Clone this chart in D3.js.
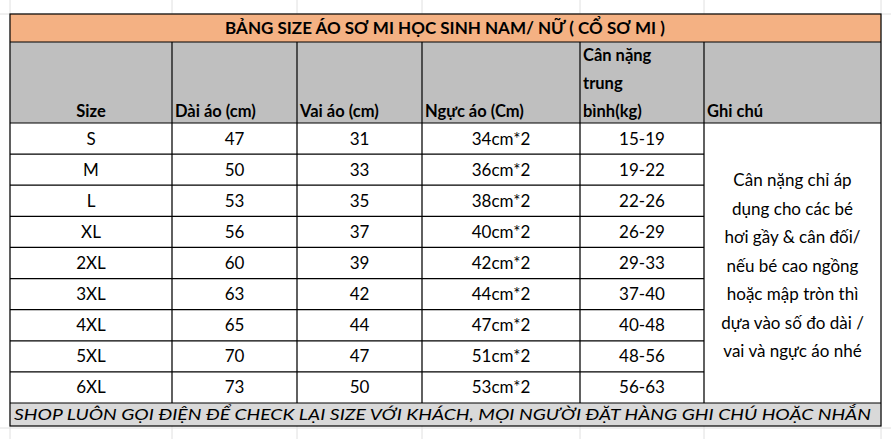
<!DOCTYPE html>
<html><head><meta charset="utf-8">
<script src="https://cdn.jsdelivr.net/npm/d3@7"></script>
<style>body{margin:0;background:#fff}text{font-family:Lato,"Open Sans",sans-serif}</style>
</head><body><div id="chart"></div>
<script>
const title = "BẢNG SIZE ÁO SƠ MI HỌC SINH NAM/ NỮ ( CỔ SƠ MI )";
const headers = ["Size", "Dài áo (cm)", "Vai áo (cm)", "Ngực áo (Cm)", "Cân nặng\ntrung\nbình(kg)", "Ghi chú"];
const sizes = ["S", "M", "L", "XL", "2XL", "3XL", "4XL", "5XL", "6XL"];
const lengthCm = [47, 50, 53, 56, 60, 63, 65, 70, 73];
const shoulder = [31, 33, 35, 37, 39, 42, 44, 47, 50];
const chest = ["34cm*2", "36cm*2", "38cm*2", "40cm*2", "42cm*2", "44cm*2", "47cm*2", "51cm*2", "53cm*2"];
const weight = ["15-19", "19-22", "22-26", "26-29", "29-33", "37-40", "40-48", "48-56", "56-63"];
const note = ["Cân nặng chỉ áp", "dụng cho các bé", "hơi gầy & cân đối/", "nếu bé cao ngồng", "hoặc mập tròn thì", "dựa vào số đo dài /", "vai và ngực áo nhé"];
const footer = "SHOP LUÔN GỌI ĐIỆN ĐỂ CHECK LẠI SIZE VỚI KHÁCH, MỌI NGƯỜI ĐẶT HÀNG GHI CHÚ HOẶC NHẮN";

const W = 891, H = 439;
const colEdges = [10, 172, 297, 422, 580, 704, 881];
const svg = d3.select("#chart").append("svg").attr("width", W).attr("height", H);

// faint spreadsheet grid
svg.selectAll(".gx").data(colEdges).join("line").attr("x1", d => d).attr("x2", d => d)
  .attr("y1", 0).attr("y2", H).attr("stroke", "#e0e0e0");
svg.selectAll(".gy").data([14, 428]).join("line").attr("x1", 0).attr("x2", W)
  .attr("y1", d => d).attr("y2", d => d).attr("stroke", "#e0e0e0");

const y = d3.scaleBand().domain(sizes).range([123, 403]);
const topY = 14, titleB = 42, headB = 123, footB = 426;

// title
svg.append("rect").attr("x", 10).attr("y", topY).attr("width", 871).attr("height", titleB - topY).attr("fill", "#f4b183");
svg.append("text").attr("x", 445).attr("y", 34).attr("text-anchor", "middle").attr("font-weight", "bold")
  .attr("font-size", 17).text(title);
// header
svg.append("rect").attr("x", 10).attr("y", titleB).attr("width", 871).attr("height", headB - titleB).attr("fill", "#bfbfbf");
headers.forEach((h, i) => {
  const lines = h.split("\n");
  lines.forEach((l, j) => {
    svg.append("text")
      .attr("x", i === 0 ? (colEdges[0] + colEdges[1]) / 2 : colEdges[i] + 3)
      .attr("text-anchor", i === 0 ? "middle" : "start")
      .attr("y", 117 - (lines.length - 1 - j) * 28)
      .attr("font-weight", "bold").attr("font-size", 16.5).text(l);
  });
});
// body rows
const cols = [sizes, lengthCm, shoulder, chest, weight];
sizes.forEach((s, r) => {
  cols.forEach((c, i) => {
    svg.append("text").attr("x", (colEdges[i] + colEdges[i + 1]) / 2)
      .attr("y", y(s) + y.bandwidth() / 2 + 6).attr("text-anchor", "middle")
      .attr("font-size", 17).text(c[r]);
  });
});
note.forEach((l, i) => {
  svg.append("text").attr("x", (704 + 881) / 2).attr("y", 186 + i * 28.5)
    .attr("text-anchor", "middle").attr("font-size", 17).text(l);
});
// footer
svg.append("rect").attr("x", 10).attr("y", 403).attr("width", 871).attr("height", footB - 403).attr("fill", "#d9d9d9");
svg.append("text").attr("x", 14).attr("y", 420).attr("font-style", "italic").attr("font-size", 16)
  .attr("textLength", 857).attr("lengthAdjust", "spacingAndGlyphs").text(footer);

// borders
const stroke = "#000";
svg.append("rect").attr("x", 10).attr("y", topY).attr("width", 871).attr("height", footB - topY)
  .attr("fill", "none").attr("stroke", stroke).attr("stroke-width", 1.2);
[titleB, headB, 403].forEach(v => svg.append("line").attr("x1", 10).attr("x2", 881).attr("y1", v).attr("y2", v).attr("stroke", stroke).attr("stroke-width", 1.2));
sizes.slice(1).forEach(s => svg.append("line").attr("x1", 10).attr("x2", 704)
  .attr("y1", y(s)).attr("y2", y(s)).attr("stroke", stroke).attr("stroke-width", 1.2));
colEdges.slice(1, -1).forEach(v => svg.append("line").attr("x1", v).attr("x2", v)
  .attr("y1", titleB).attr("y2", 403).attr("stroke", stroke).attr("stroke-width", 1.2));
</script></body></html>
